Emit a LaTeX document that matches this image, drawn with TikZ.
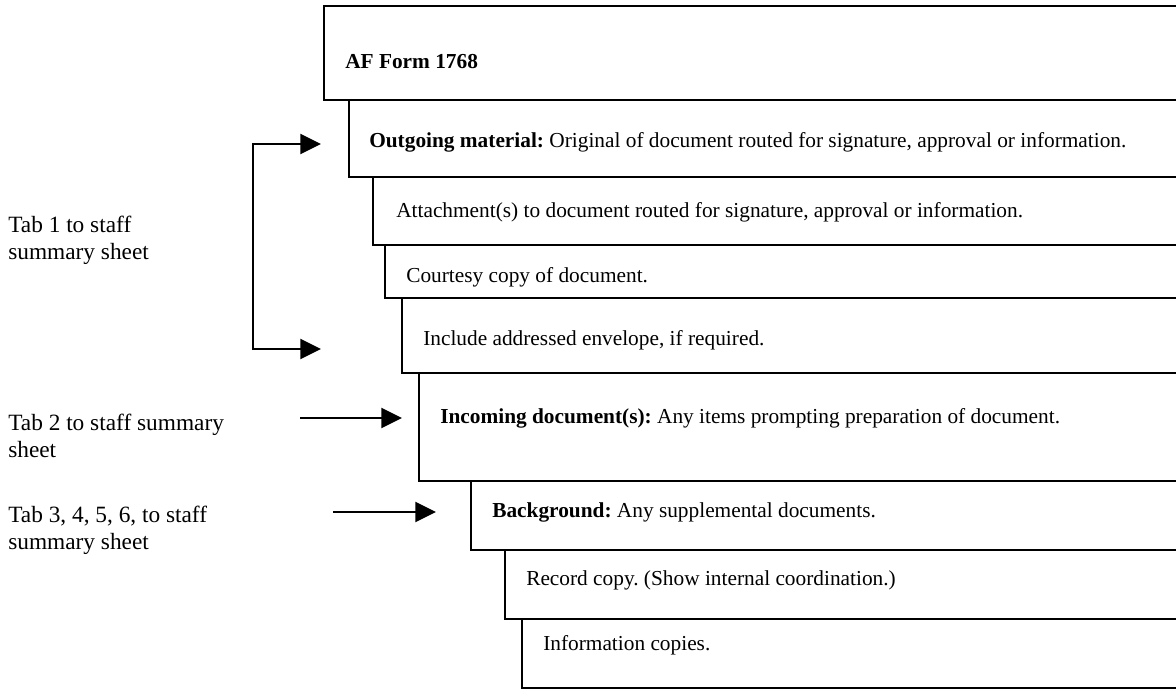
\documentclass[tikz,border=0pt]{standalone}
\usepackage{fontspec}
\setmainfont{Liberation Serif}
\usetikzlibrary{
    arrows.meta
}
\frenchspacing

\begin{document}
\begin{tikzpicture}[
        x=0.75pt,
        y=-0.75pt,
        sheet/.style={
            line width=1.5pt
        },
        entry/.style={
            anchor=west,
            inner sep=0pt,
            font=\fontsize{16}{19}\selectfont
        },
        tab/.style={
            anchor=west,
            inner sep=0pt,
            align=left,
            font=\fontsize{17.5}{20.5}\selectfont
        },
        line/.style={
            -{Triangle[length=15.5pt,width=15pt]},
            line width=1.5pt
        },
        bracket/.style={
            {Triangle[length=15.5pt,width=15pt]}-{Triangle[length=15.5pt,width=15pt]},
            line width=1.5pt
        }
    ]

    \useasboundingbox (0,0) rectangle (1176,689);

    \draw[sheet] (1176,6) -- (324,6) |- (1176,100);
    \draw[sheet] (1176,100) -- (349,100) |- (1176,177);
    \draw[sheet] (1176,177) -- (373,177) |- (1176,245);
    \draw[sheet] (1176,245) -- (385,245) |- (1176,298);
    \draw[sheet] (1176,298) -- (402,298) |- (1176,373);
    \draw[sheet] (1176,373) -- (419,373) |- (1176,481);
    \draw[sheet] (1176,481) -- (471,481) |- (1176,550);
    \draw[sheet] (1176,550) -- (505,550) |- (1176,619);
    \draw[sheet] (1176,619) -- (522,619) |- (1176,688);

    \node[entry] (form) at (345,62) {\textbf{AF Form 1768}};
    \node[entry] (outgoing) at (369,142)
        {\textbf{Outgoing material:} Original of document routed for signature, approval or information.};
    \node[entry] (attach) at (396,212)
        {Attachment(s) to document routed for signature, approval or information.};
    \node[entry] (courtesy) at (406,277) {Courtesy copy of document.};
    \node[entry] (envelope) at (423,340) {Include addressed envelope, if required.};
    \node[entry] (incoming) at (440,418)
        {\textbf{Incoming document(s):} Any items prompting preparation of document.};
    \node[entry] (background) at (492,512)
        {\textbf{Background:} Any supplemental documents.};
    \node[entry] (record) at (526,580) {Record copy. (Show internal coordination.)};
    \node[entry] (info) at (543,645) {Information copies.};

    \node[tab] (tabone) at (8,240) {Tab 1 to staff\\summary sheet};
    \node[tab] (tabtwo) at (8,436) {Tab 2 to staff summary\\sheet};
    \node[tab] (tabthree) at (8,530) {Tab 3, 4, 5, 6, to staff\\summary sheet};

    \coordinate (brk) at (253,246);
    \coordinate (tipone) at (321,144);
    \coordinate (tipfour) at (321,349);
    \coordinate (fromtwo) at (300,418);
    \coordinate (tiptwo) at (402,418);
    \coordinate (fromthree) at (333,512);
    \coordinate (tipthree) at (436,512);

    \draw[bracket] (tipone) -| (brk) |- (tipfour);
    \draw[line] (fromtwo) -- (tiptwo);
    \draw[line] (fromthree) -- (tipthree);

\end{tikzpicture}
\end{document}
